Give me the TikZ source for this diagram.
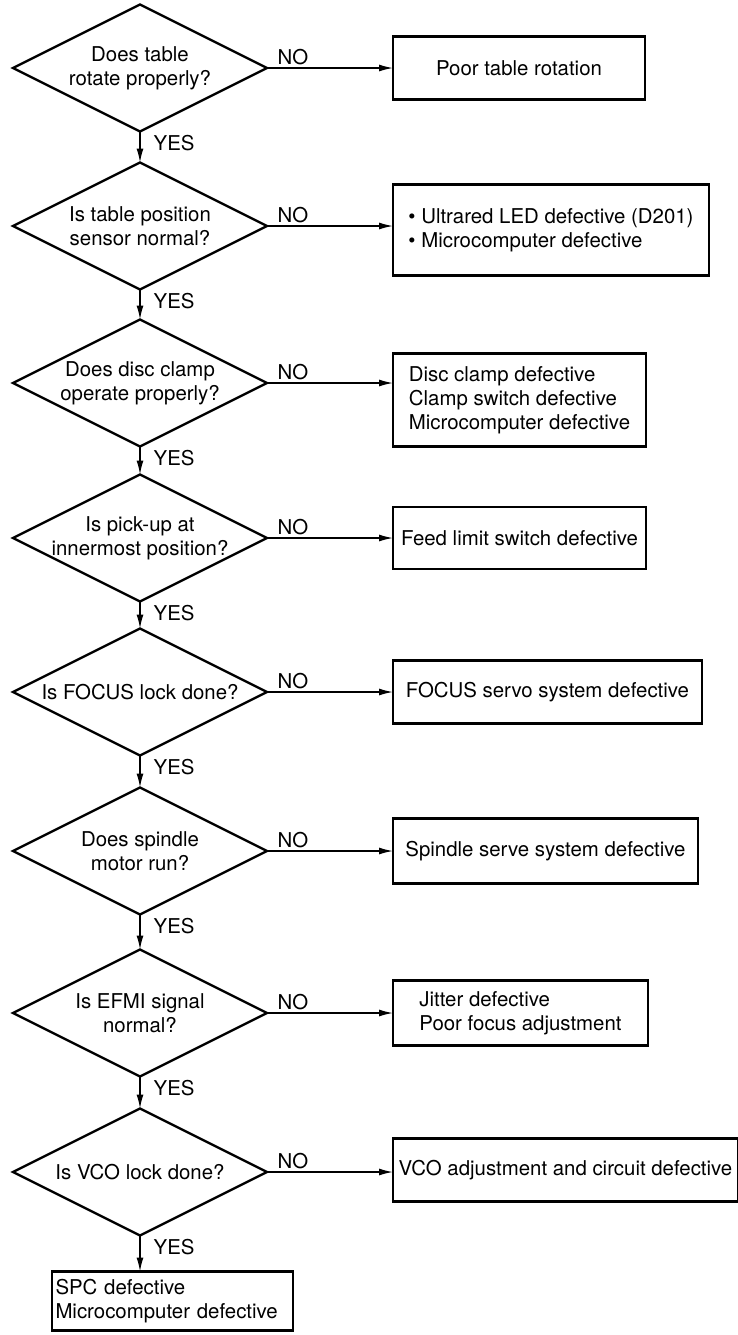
\documentclass[tikz,border=0pt]{standalone}
\usepackage{fontspec}
\setmainfont{TeX Gyre Heros}
\usetikzlibrary{shapes.geometric, arrows.meta, positioning}
\tikzset{
  decision/.style={diamond, aspect=2, draw=black, line width=1.2pt,
                   minimum width=127pt, minimum height=63.5pt,
                   inner sep=-2pt, outer sep=0pt, align=center},
  faultbox/.style={rectangle, draw=black, line width=1.2pt,
                   minimum height=31.5pt, outer sep=0pt, align=center},
  arrow/.style={-{Latex[length=7pt,width=3.5pt]}, line width=0.7pt},
  nolbl/.style={pos=0, anchor=south west, inner sep=1pt, xshift=4pt},
  yeslbl/.style={pos=0, anchor=north west, inner sep=1.5pt, xshift=5pt},
}
\begin{document}
\begin{tikzpicture}[font=\fontsize{10.2}{12}\selectfont]
    \useasboundingbox (0,0) rectangle (369pt,-667.5pt);
    % checks down the left side
    \node[decision] (q1) at (70pt,-34pt) {Does table\\rotate properly?};
    \node[decision, below=15.5pt of q1] (q2) {Is table position\\sensor normal?};
    \node[decision, below=15pt of q2] (q3) {Does disc clamp\\operate properly?};
    \node[decision, below=14pt of q3] (q4) {Is pick-up at\\innermost position?};
    \node[decision, below=13.5pt of q4] (q5) {Is FOCUS lock done?};
    \node[decision, below=16pt of q5] (q6) {Does spindle\\motor run?};
    \node[decision, below=17.5pt of q6] (q7) {Is EFMI signal\\normal?};
    \node[decision, below=16pt of q7] (q8) {Is VCO lock done?};
    % faults on the right
    \node[faultbox, right=63pt of q1, minimum width=126pt] (f1) {Poor table rotation};
    \node[faultbox, right=63pt of q2, yshift=-2pt, minimum width=158pt,
          minimum height=45.5pt, align=left] (f2)
          {\textbullet\ Ultrared LED defective (D201)\\\textbullet\ Microcomputer defective};
    \node[faultbox, right=63pt of q3, yshift=-8.5pt, minimum width=126.5pt,
          minimum height=46.5pt, align=left] (f3)
          {Disc clamp defective\\Clamp switch defective\\Microcomputer defective};
    \node[faultbox, right=63pt of q4, minimum width=126.5pt, minimum height=31pt,
          inner xsep=1pt] (f4) {Feed limit switch defective};
    \node[faultbox, right=63pt of q5, minimum width=154.5pt] (f5) {FOCUS servo system defective};
    \node[faultbox, right=63pt of q6, minimum width=152.5pt, minimum height=32.5pt] (f6)
          {Spindle serve system defective};
    \node[faultbox, right=63pt of q7, minimum width=127.5pt, minimum height=32.5pt,
          align=left] (f7) {Jitter defective\\Poor focus adjustment};
    \node[faultbox, right=63pt of q8, yshift=1pt, minimum width=172.5pt,
          inner xsep=1pt] (f8) {VCO adjustment and circuit defective};
    \node[faultbox, below=18pt of q8, xshift=16.25pt, text width=117pt,
          inner xsep=1.75pt, minimum height=29.5pt, align=left] (spc)
          {SPC defective\\Microcomputer defective};
    % YES branches
    \draw[arrow] (q1) -- node[yeslbl]{YES} (q2);
    \draw[arrow] (q2) -- node[yeslbl]{YES} (q3);
    \draw[arrow] (q3) -- node[yeslbl]{YES} (q4);
    \draw[arrow] (q4) -- node[yeslbl]{YES} (q5);
    \draw[arrow] (q5) -- node[yeslbl]{YES} (q6);
    \draw[arrow] (q6) -- node[yeslbl]{YES} (q7);
    \draw[arrow] (q7) -- node[yeslbl]{YES} (q8);
    \draw[arrow] (q8.south) -- node[yeslbl]{YES} (q8.south |- spc.north);
    % NO branches
    \draw[arrow] (q1.east) -- node[nolbl]{NO} (q1.east -| f1.west);
    \draw[arrow] (q2.east) -- node[nolbl]{NO} (q2.east -| f2.west);
    \draw[arrow] (q3.east) -- node[nolbl]{NO} (q3.east -| f3.west);
    \draw[arrow] (q4.east) -- node[nolbl]{NO} (q4.east -| f4.west);
    \draw[arrow] (q5.east) -- node[nolbl]{NO} (q5.east -| f5.west);
    \draw[arrow] (q6.east) -- node[nolbl]{NO} (q6.east -| f6.west);
    \draw[arrow] (q7.east) -- node[nolbl]{NO} (q7.east -| f7.west);
    \draw[arrow] (q8.east) -- node[nolbl]{NO} (q8.east -| f8.west);
\end{tikzpicture}
\end{document}
